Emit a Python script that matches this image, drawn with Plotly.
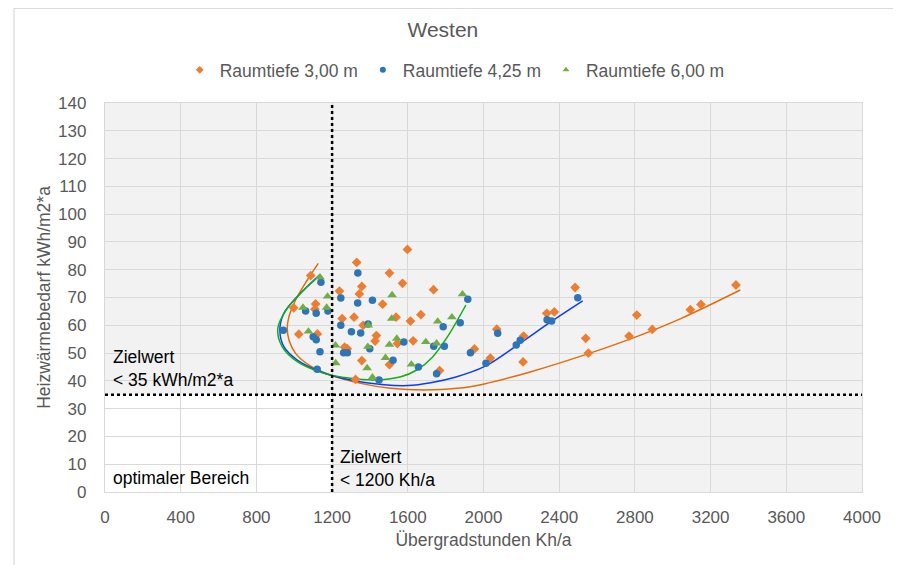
import plotly.graph_objects as go

# ── data ─────────────────────────────────────────────────────────────────────

# Raumtiefe 3,00 m
x_300 = [1598, 1330, 1087, 1503, 1357, 1572, 1239, 1344, 1736, 1467, 997, 1113, 1109,
         1253, 1316, 1538, 1614, 1669, 1364, 1024, 1122, 1434, 1427, 1628, 1545, 1266,
         1280, 1357, 1503, 1768, 1324, 2070, 1952, 2036, 2209, 2212, 2334, 2374, 2484,
         2540, 2554, 2769, 2810, 2892, 3093, 3149, 3334]
y_300 = [87.3, 82.6, 77.9, 78.8, 74.0, 75.1, 72.3, 71.3, 72.8, 67.6, 66.3, 67.7, 65.8,
         62.4, 62.9, 62.9, 61.5, 63.8, 60.0, 56.8, 56.9, 56.3, 54.3, 54.4, 53.4, 52.1,
         51.6, 47.3, 45.8, 43.7, 40.5, 58.6, 51.5, 48.2, 46.8, 56.1, 64.3, 64.8, 73.6,
         55.3, 50.0, 56.1, 63.7, 58.5, 65.6, 67.5, 74.5]

# Raumtiefe 4,25 m
x_425 = [1336, 1141, 1246, 1335, 1413, 1060, 1116, 1178, 1246, 1390, 1302, 1351, 942,
         1100, 1116, 1136, 1261, 1281, 1399, 1579, 1522, 1121, 1448, 1656, 1737, 1787,
         1793, 1877, 1917, 1752, 1931, 2013, 2075, 2173, 2194, 2336, 2360, 2498]
y_425 = [78.8, 75.5, 69.8, 68.0, 69.0, 65.1, 64.3, 65.1, 60.0, 60.5, 57.7, 57.2, 58.2,
         55.9, 54.8, 50.5, 50.1, 50.1, 51.6, 54.0, 47.4, 44.2, 40.3, 45.0, 52.5, 59.5,
         52.5, 60.9, 69.4, 42.6, 50.1, 46.3, 57.1, 52.9, 54.6, 62.0, 61.5, 69.9]

# Raumtiefe 6,00 m
x_600 = [1136, 1176, 1046, 1171, 1075, 1517, 1515, 1391, 1218, 1219, 1542, 1389, 1503,
         1695, 1752, 1758, 1833, 1889, 1482, 1619, 1385, 1413]
y_600 = [77.3, 70.4, 66.4, 66.4, 57.8, 70.9, 62.4, 60.0, 52.8, 46.4, 55.2, 52.3, 53.0,
         54.0, 53.5, 61.4, 62.9, 71.2, 48.3, 45.9, 44.6, 41.3]

# trend curves
tx_300 = [1127, 1069, 1007, 972, 963, 972, 1007, 1078, 1192, 1351, 1510, 1686, 1863,
          2004, 2251, 2551, 2816, 3045, 3357]
ty_300 = [82.3, 76.3, 69.1, 63.1, 58.9, 54.7, 49.9, 45.7, 42.1, 39.1, 37.3, 36.7, 37.3,
          38.9, 43.3, 49.7, 56.1, 62.5, 72.7]
tx_425 = [1136, 1033, 945, 924, 945, 1016, 1139, 1298, 1475, 1600, 1721, 1850, 2004,
          2180, 2357, 2524]
ty_425 = [78.3, 71.5, 64.3, 58.3, 52.3, 47.5, 43.3, 40.3, 38.6, 38.3, 39.3, 41.3, 45.1,
          52.9, 61.3, 68.8]
tx_600 = [1139, 1051, 963, 913, 936, 1016, 1157, 1298, 1422, 1563, 1650, 1730, 1810, 1907]
ty_600 = [78.1, 72.7, 66.1, 58.9, 52.3, 46.9, 42.7, 40.9, 40.3, 41.5, 44.0, 48.5, 55.9, 67.3]

ZIEL_X = 1200
ZIEL_Y = 35

FONT = "Liberation Sans, Arial, sans-serif"
GREY = "#595959"

# (name, symbol, marker colour, curve colour, x, y, curve x, curve y)
SERIES = [
    ("Raumtiefe 3,00 m", "diamond", "#ed7d31", "#e36c0a", x_300, y_300, tx_300, ty_300),
    ("Raumtiefe 4,25 m", "circle", "#2e75b6", "#0a3cff", x_425, y_425, tx_425, ty_425),
    ("Raumtiefe 6,00 m", "triangle-up", "#70ad47", "#12b012", x_600, y_600, tx_600, ty_600),
]

fig = go.Figure()

# curves first so the markers sit on top
for name, sym, mcol, lcol, xs, ys, tx, ty in SERIES:
    fig.add_trace(go.Scatter(x=tx, y=ty, mode="lines",
                             line=dict(color=lcol, width=1.5, shape="spline", smoothing=1.0),
                             showlegend=False, hoverinfo="skip"))

for name, sym, mcol, lcol, xs, ys, tx, ty in SERIES:
    size = 8.5 if sym == "triangle-up" else 7.5
    fig.add_trace(go.Scatter(x=xs, y=ys, mode="markers", name=name, showlegend=False,
                             marker=dict(symbol=sym, size=size, color=mcol)))
    # small legend markers like the Excel legend
    fig.add_trace(go.Scatter(x=[None], y=[None], mode="markers", name=name,
                             marker=dict(symbol=sym, size=6, color=mcol)))

# white "optimal" region, under the grid
fig.add_shape(type="rect", x0=0, x1=ZIEL_X, y0=0, y1=ZIEL_Y, layer="below",
              fillcolor="white", line_width=0)
fig.add_vline(x=ZIEL_X, line=dict(color="black", width=2.5, dash="dot"))
fig.add_hline(y=ZIEL_Y, line=dict(color="black", width=2.5, dash="dot"))

# outer chart border
fig.add_shape(type="rect", xref="paper", yref="paper", x0=-0.1202, x1=1.0476,
              y0=-0.3, y1=1.243, line=dict(color="#d9d9d9", width=1.2),
              fillcolor="rgba(0,0,0,0)")

txt = dict(font=dict(family=FONT, size=17.5, color="#000000"), showarrow=False,
           xanchor="left", align="left", yanchor="middle")
fig.add_annotation(x=30, y=44.3, text="Zielwert<br>< 35 kWh/m2*a", **txt)
fig.add_annotation(x=30, y=5, text="optimaler Bereich", **txt)
fig.add_annotation(x=1232, y=8.3, text="Zielwert<br>< 1200 Kh/a", **txt)

axis = dict(showgrid=True, gridcolor="#d9d9d9", gridwidth=1.3, showline=True,
            linecolor="#d9d9d9", linewidth=1.3, mirror=True, zeroline=False,
            ticks="", automargin=False,
            tickfont=dict(family=FONT, size=17, color=GREY),
            title_font=dict(family=FONT, size=17.5, color=GREY))

# page body has an 8px margin, so the figure is laid out 8px up/left
fig.update_layout(
    width=893, height=557,
    paper_bgcolor="white", plot_bgcolor="#f2f2f2",
    margin=dict(l=97, r=39, t=95, b=73),
    font=dict(family=FONT, size=17, color=GREY),
    title=dict(text="Westen", x=0.487, xanchor="center", y=0.9605, yanchor="middle",
               font=dict(family=FONT, size=21, color=GREY)),
    legend=dict(orientation="h", x=0.462, xanchor="center", y=1.085, yanchor="middle",
                font=dict(family=FONT, size=17.5, color=GREY),
                itemsizing="trace", itemwidth=30),
    xaxis=dict(range=[0, 4000], dtick=400, tick0=0, ticklabelstandoff=9,
               title=dict(text="Übergradstunden Kh/a", standoff=8), **axis),
    yaxis=dict(range=[0, 140], dtick=10, tick0=0, ticklabelstandoff=14,
               title=dict(text="Heizwärmebedarf kWh/m2*a", standoff=2), **axis),
)

fig.write_html("out.html")
